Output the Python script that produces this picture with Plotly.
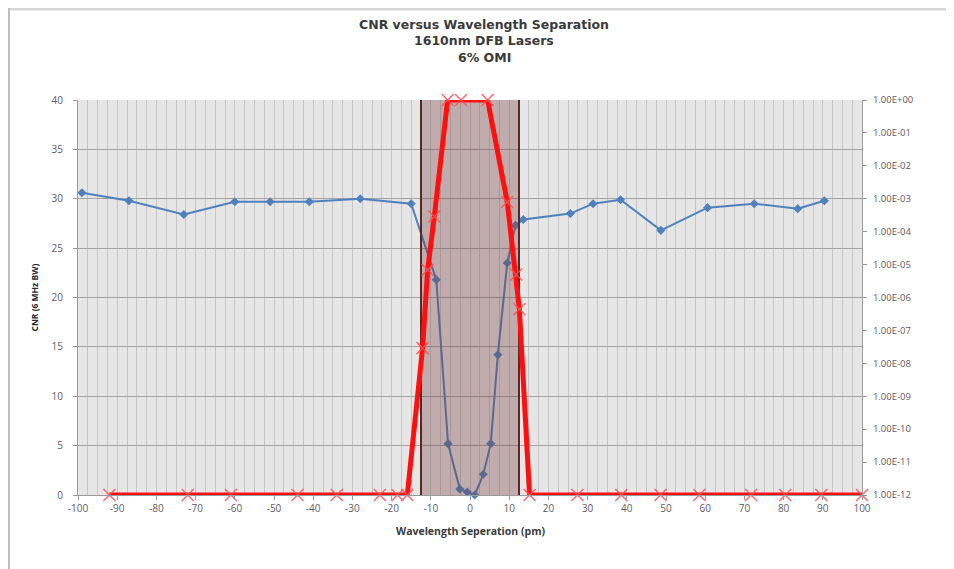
import plotly.graph_objects as go

# CNR (left axis) vs wavelength separation
cnr_x = [-99, -87, -73, -60, -51, -41, -28, -15, -8.6, -5.6, -2.6, -0.7, 1.2, 3.4, 5.3, 7.1,
         9.5, 11.6, 13.6, 25.6, 31.4, 38.4, 48.7, 60.6, 72.5, 83.6, 90.4]
cnr_y = [30.6, 29.8, 28.4, 29.7, 29.7, 29.7, 30.0, 29.5, 21.8, 5.2, 0.6, 0.3, 0.0, 2.1, 5.2, 14.2,
         23.5, 27.3, 27.9, 28.5, 29.5, 29.9, 26.8, 29.1, 29.5, 29.0, 29.8]

# BER (right axis, log)
ber_x = [-92, -72, -61, -44, -34, -23, -18.5, -16, -12.1, -10.8, -9.1, -5.7, -2.3, 4.5,
         9.5, 11.8, 12.6, 15.2, 27.4, 38.6, 48.6, 58.5, 71.7, 80.4, 89.6, 100]
ber_y = [1e-12, 1e-12, 1e-12, 1e-12, 1e-12, 1e-12, 1e-12, 1e-12, 2.9e-8, 6.9e-6, 2.9e-4, 1, 1, 1,
         8e-4, 5e-6, 4.4e-7, 1e-12, 1e-12, 1e-12, 1e-12, 1e-12, 1e-12, 1e-12, 1e-12, 1e-12]

# shaded band edges (pm) and CNR range
band_lo, band_hi = -12.5, 12.5
cnr_min, cnr_max = 0, 40

x_ticks = list(range(-100, 101, 10))
x_text = [str(v) for v in x_ticks]

ber_exp = list(range(-12, 1))
ber_ticks = [10.0 ** k for k in ber_exp]
ber_text = [f"1.00E{k:+03d}" for k in ber_exp]

# page body has an 8px margin, so the figure is laid out 8px smaller
W, H = 946, 561
L, R, T, B = 70, 92, 92, 74
pw, ph = W - L - R, H - T - B

FONT = "Open Sans"
TITLE_FONT = "DejaVu Sans"
TICKC = "#5f5a66"
AX = "#9a9a9a"

fig = go.Figure()

fig.add_trace(go.Scatter(
    x=cnr_x, y=cnr_y, mode="lines+markers", yaxis="y", cliponaxis=False,
    line=dict(color="#4f81bd", width=2),
    marker=dict(symbol="diamond", size=7, color="#4f81bd"),
))

fig.add_trace(go.Scatter(
    x=[band_lo, band_hi, band_hi, band_lo, band_lo],
    y=[cnr_min, cnr_min, cnr_max, cnr_max, cnr_min],
    mode="lines", fill="toself", fillcolor="rgba(115,55,55,0.33)",
    line=dict(color="rgba(0,0,0,0)", width=0), hoverinfo="skip",
))
for bx in (band_lo, band_hi):
    fig.add_trace(go.Scatter(
        x=[bx, bx], y=[cnr_min, cnr_max], mode="lines",
        line=dict(color="#5a2626", width=2), hoverinfo="skip",
    ))

fig.add_trace(go.Scatter(
    x=ber_x, y=ber_y, mode="lines+markers", yaxis="y2", cliponaxis=False,
    line=dict(color="#ff0f0f", width=5),
    marker=dict(symbol="x-thin", size=12, color="rgba(255,80,80,0.85)",
                line=dict(color="rgba(255,80,80,0.85)", width=1.5)),
))

fig.update_layout(
    width=W, height=H,
    margin=dict(l=L, r=R, t=T, b=B),
    paper_bgcolor="white", plot_bgcolor="#e6e6e6",
    showlegend=False,
    font=dict(family=FONT, size=10, color=TICKC),
    xaxis=dict(
        range=[-100, 100], tickmode="array", tickvals=x_ticks, ticktext=x_text,
        showgrid=True, gridcolor="#c6c6c6", gridwidth=1,
        minor=dict(tickmode="linear", tick0=0, dtick=2.5, showgrid=True,
                   gridcolor="#c6c6c6", gridwidth=1),
        zeroline=False, showline=True, linecolor=AX, linewidth=1,
        ticks="outside", ticklen=4, tickcolor=AX,
        tickfont=dict(family=FONT, size=10, color=TICKC),
    ),
    yaxis=dict(
        range=[cnr_min, cnr_max], dtick=5,
        showgrid=True, gridcolor="#a3a3a3", gridwidth=1,
        zeroline=False, showline=True, linecolor=AX, linewidth=1,
        ticks="outside", ticklen=4, tickcolor=AX, ticklabelstandoff=8,
        tickfont=dict(family=FONT, size=10, color=TICKC),
    ),
    yaxis2=dict(
        overlaying="y", side="right", type="log", range=[-12, 0],
        tickvals=ber_ticks, ticktext=ber_text,
        showgrid=False, zeroline=False, showline=True, linecolor=AX, linewidth=1,
        ticks="outside", ticklen=4, tickcolor=AX, ticklabelstandoff=4,
        tickfont=dict(family=FONT, size=9.5, color=TICKC),
    ),
)

# titles
title_lines = ["CNR versus Wavelength Separation", "1610nm DFB Lasers", "6% OMI"]
for i, line in enumerate(title_lines):
    fig.add_annotation(
        text=f"<b>{line}</b>", xref="paper", yref="paper",
        x=0.5, y=1, xshift=14, yshift=76 - 16.8 * i,
        xanchor="center", yanchor="middle", showarrow=False,
        font=dict(family=TITLE_FONT, size=12.5, color="#3a3a3a"),
    )
fig.add_annotation(
    text="<b>Wavelength Seperation (pm)</b>", xref="paper", yref="paper",
    x=0.5, y=0, yshift=-36, xanchor="center", yanchor="middle", showarrow=False,
    font=dict(family=FONT, size=10.5, color="#3a3a3a"),
)
fig.add_annotation(
    text="<b>CNR (6 MHz BW)</b>", xref="paper", yref="paper", textangle=-90,
    x=0, y=0.5, xshift=-44, xanchor="center", yanchor="middle", showarrow=False,
    font=dict(family=FONT, size=8.5, color="#2a2a2a"),
)
fig.add_annotation(
    text="<b>BER</b>", xref="paper", yref="paper", textangle=-90,
    x=1, y=0.5, xshift=87, xanchor="center", yanchor="middle", showarrow=False,
    font=dict(family=FONT, size=7, color="#2a2a2a"),
)

# outer chart frame (top and left edges visible)
def px_x(p):
    return (p - L) / pw

def px_y(p):
    return 1 - (p - T) / ph

fig.add_shape(type="line", xref="paper", yref="paper",
              x0=px_x(0), x1=px_x(W), y0=px_y(1), y1=px_y(1),
              line=dict(color="#d6d6d6", width=3))
fig.add_shape(type="line", xref="paper", yref="paper",
              x0=px_x(1), x1=px_x(1), y0=px_y(0), y1=px_y(H),
              line=dict(color="#bdbdbd", width=2))

fig.write_html("out.html")
